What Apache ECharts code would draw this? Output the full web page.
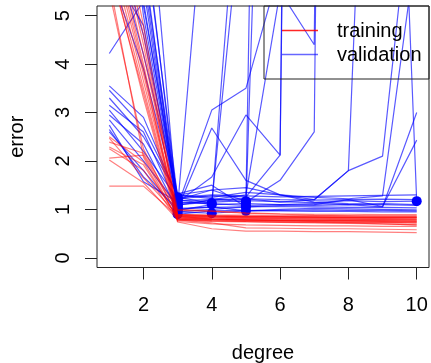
<!DOCTYPE html>
<html><head><meta charset="utf-8">
<script src="https://cdn.jsdelivr.net/npm/echarts@6/dist/echarts.min.js"></script>
<style>html,body{margin:0;padding:0;background:#fff}#c{width:431px;height:363px}</style>
</head><body><div id="c"></div>
<script>
const degrees = [1, 2, 3, 4, 5, 6, 7, 8, 9, 10];
const xTicks = [2, 4, 6, 8, 10];
const yTicks = [0, 1, 2, 3, 4, 5];
const legendLabels = ['training', 'validation'];

// training error curves (one list per run), degree 1..10
const training = [
  [5.7, 2.08, 0.80, 0.78, 0.77, 0.76, 0.75, 0.74, 0.73, 0.72],
  [5.5, 2.25, 0.85, 0.83, 0.82, 0.81, 0.80, 0.80, 0.79, 0.78],
  [6.0, 3.4, 0.78, 0.75, 0.74, 0.73, 0.72, 0.71, 0.70, 0.68],
  [6.2, 3.5, 0.82, 0.80, 0.79, 0.78, 0.78, 0.77, 0.77, 0.76],
  [6.4, 3.65, 0.88, 0.86, 0.85, 0.85, 0.84, 0.84, 0.83, 0.83],
  [6.6, 3.8, 0.90, 0.88, 0.88, 0.87, 0.87, 0.86, 0.86, 0.86],
  [6.8, 3.9, 0.75, 0.70, 0.68, 0.67, 0.66, 0.66, 0.65, 0.65],
  [7.0, 4.0, 0.84, 0.82, 0.81, 0.80, 0.80, 0.79, 0.79, 0.79],
  [7.2, 4.2, 1.00, 0.97, 0.93, 0.91, 0.90, 0.90, 0.89, 0.89],
  [7.5, 4.4, 0.86, 0.84, 0.83, 0.82, 0.82, 0.81, 0.81, 0.80],
  [7.8, 4.6, 0.80, 0.77, 0.75, 0.74, 0.74, 0.73, 0.73, 0.72],
  [8.2, 4.8, 0.87, 0.85, 0.84, 0.84, 0.83, 0.83, 0.82, 0.82],
  [6.1, 3.3, 0.74, 0.60, 0.55, 0.55, 0.54, 0.54, 0.53, 0.52],
  [2.47, 1.65, 0.88, 0.86, 0.85, 0.84, 0.84, 0.83, 0.83, 0.83],
  [2.39, 2.16, 0.98, 0.96, 0.92, 0.90, 0.88, 0.87, 0.86, 0.86],
  [2.29, 1.92, 0.83, 0.80, 0.79, 0.78, 0.77, 0.77, 0.76, 0.75],
  [2.25, 1.81, 0.78, 0.72, 0.62, 0.61, 0.60, 0.60, 0.59, 0.58],
  [2.06, 2.12, 0.90, 0.87, 0.86, 0.85, 0.85, 0.84, 0.84, 0.84],
  [2.02, 1.55, 0.79, 0.76, 0.75, 0.74, 0.73, 0.72, 0.70, 0.68],
  [1.48, 1.48, 0.86, 0.80, 0.78, 0.77, 0.76, 0.76, 0.75, 0.74],
  [2.5, 1.98, 0.81, 0.79, 0.78, 0.77, 0.77, 0.76, 0.76, 0.76]
];

// validation error curves (one list per run), degree 1..10
const validation = [
  [12.0, 8.9, 0.90, 0.97, 0.98, 0.97, 0.96, 0.96, 0.95, 0.95],
  [9.0, 6.2, 0.95, 0.92, 0.97, 0.98, 0.99, 0.98, 0.98, 0.97],
  [7.5, 5.6, 1.00, 1.05, 0.97, 1.00, 1.02, 1.01, 1.00, 0.99],
  [4.22, 5.3, 1.10, 1.15, 1.18, 1.16, 1.14, 1.18, 1.16, 1.17],
  [10.0, 7.0, 1.05, 9.3, 15, 20, 25, 30, 40, 50],
  [8.0, 6.0, 1.20, 1.10, 10.0, 30, 40, 50, 60, 70],
  [6.5, 5.8, 1.12, 1.18, 1.22, 1.15, 1.20, 1.80, 2.10, 8.6],
  [5.8, 5.2, 1.30, 1.25, 1.35, 1.30, 1.20, 1.80, 19, 1.17],
  [7.0, 4.6, 1.20, 1.40, 1.45, 1.30, 1.25, 1.22, 1.28, 6.5],
  [11.0, 5.0, 1.15, 1.12, 1.08, 1.10, 1.12, 1.10, 1.12, 1.10],
  [6.0, 4.8, 1.02, 1.04, 1.05, 1.06, 1.05, 1.04, 1.04, 1.03],
  [8.5, 6.8, 1.25, 1.30, 1.28, 1.26, 1.27, 1.28, 1.29, 1.30],
  [5.9, 3.9, 1.18, 1.20, 1.22, 1.20, 1.19, 1.20, 1.21, 1.20],
  [3.55, 2.9, 1.25, 1.13, 8.2, 20, 30, 40, 50, 60],
  [3.46, 2.7, 1.30, 1.40, 1.17, 42, 50, 60, 70, 80],
  [3.3, 2.5, 1.32, 1.50, 1.05, 23, 30, 40, 50, 60],
  [2.74, 1.57, 1.15, 1.67, 2.95, 2.12, 70, 80, 90, 100],
  [3.05, 2.2, 1.22, 1.28, 1.26, 2.12, 60, 70, 80, 90],
  [2.85, 2.0, 1.08, 1.20, 1.30, 5.5, 4.4, 70, 80, 90],
  [2.95, 2.35, 0.98, 1.10, 1.12, 1.10, 1.08, 1.10, 1.05, 3.0],
  [2.6, 1.8, 0.95, 1.00, 1.05, 1.08, 1.10, 1.20, 1.06, 2.43],
  [3.15, 2.6, 1.07, 3.05, 3.5, 6.0, 10, 20, 30, 40],
  [2.65, 1.67, 1.02, 2.68, 1.60, 1.30, 1.15, 1.12, 1.10, 1.08],
  [6.8, 4.2, 1.30, 1.22, 1.15, 1.60, 2.60, 70, 80, 90]
];

const chart = echarts.init(document.getElementById('c'), null, { renderer: 'canvas' });
const pair = arr => degrees.map((d, i) => [d, arr[i]]);
const FONT = 'Liberation Sans, Arial, Helvetica, sans-serif';
const series = [];
validation.forEach(v => series.push({
  type: 'line', data: pair(v), symbol: 'none', silent: true, z: 2,
  lineStyle: { color: 'rgba(0,0,255,0.65)', width: 1.2 }
}));
const minima = validation.map(v => {
  let k = 0;
  v.forEach((x, i) => { if (x < v[k]) k = i; });
  return [degrees[k], v[k]];
});
series.push({
  type: 'scatter', data: minima, symbol: 'circle', symbolSize: 10, z: 3, silent: true,
  itemStyle: { color: '#0000ff', opacity: 1 }
});
training.forEach(t => series.push({
  type: 'line', data: pair(t), symbol: 'none', silent: true, z: 4,
  lineStyle: { color: 'rgba(255,0,0,0.5)', width: 1.2 }
}));

chart.setOption({
  animation: false,
  backgroundColor: '#fff',
  grid: {
    left: 97, right: 2, top: 6, bottom: 95.5, show: true, borderColor: '#222', borderWidth: 1,
    backgroundColor: 'transparent', containLabel: false, outerBoundsMode: 'none'
  },
  xAxis: {
    type: 'value', min: 0.64, max: 10.36,
    axisLine: { show: false, onZero: false },
    splitLine: { show: false },
    axisTick: { show: true, customValues: xTicks, length: 12, inside: false, lineStyle: { color: '#222', width: 1 } },
    axisLabel: { customValues: xTicks, fontSize: 20, color: '#000', margin: 28, fontFamily: FONT },
    name: 'degree', nameLocation: 'middle', nameGap: 76, nameMoveOverlap: false,
    nameTextStyle: { fontSize: 20, color: '#000', fontFamily: FONT }
  },
  yAxis: {
    type: 'value', min: -0.2, max: 5.2,
    axisLine: { show: false, onZero: false },
    splitLine: { show: false },
    axisTick: { show: true, customValues: yTicks, length: 12, inside: false, lineStyle: { color: '#222', width: 1 } },
    axisLabel: { customValues: yTicks, fontSize: 20, color: '#000', margin: 24, rotate: 90, fontFamily: FONT },
    name: 'error', nameLocation: 'middle', nameGap: 70, nameRotate: 90, nameMoveOverlap: false,
    nameTextStyle: { fontSize: 20, color: '#000', fontFamily: FONT }
  },
  graphic: [
    { type: 'rect', shape: { x: 264, y: 6, width: 165, height: 73 }, style: { fill: 'none', stroke: '#222', lineWidth: 1 }, z: 10 },
    { type: 'line', shape: { x1: 282, y1: 30.5, x2: 318, y2: 30.5 }, style: { stroke: 'rgba(255,0,0,0.85)', lineWidth: 1.3 }, z: 10 },
    { type: 'line', shape: { x1: 282, y1: 54.5, x2: 318, y2: 54.5 }, style: { stroke: 'rgba(0,0,255,0.6)', lineWidth: 1.3 }, z: 10 },
    { type: 'text', x: 337, y: 31, style: { text: legendLabels[0], font: '20px ' + FONT, fill: '#000', verticalAlign: 'middle' }, z: 10 },
    { type: 'text', x: 337, y: 55, style: { text: legendLabels[1], font: '20px ' + FONT, fill: '#000', verticalAlign: 'middle' }, z: 10 }
  ],
  series: series
});
</script>
</body></html>
